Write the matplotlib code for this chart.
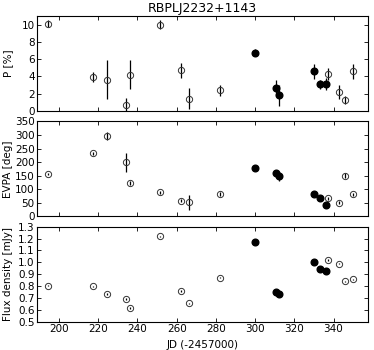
import matplotlib

matplotlib.use("Agg")
import matplotlib.pyplot as plt
import numpy as np

# open symbols
jd_open = [194.4, 217.4, 224.4, 234.2, 236.3, 251.3, 262.2, 266.1, 282.0, 337.0, 342.8, 345.7, 349.7]
p_open = [10.1, 3.92, 3.65, 0.69, 4.2, 10.0, 4.7, 1.42, 2.38, 4.3, 2.2, 1.3, 4.58]
p_open_err = [0.4, 0.55, 2.3, 0.8, 1.7, 0.5, 0.9, 1.2, 0.65, 0.65, 0.8, 0.45, 0.85]
evpa_open = [156, 232, 296, 200, 123, 88, 57, 51, 83, 66, 50, 150, 81]
evpa_open_err = [5, 6, 15, 35, 9, 5, 6, 28, 8, 6, 6, 9, 6]
flux_open = [0.803, 0.797, 0.733, 0.694, 0.615, 1.218, 0.761, 0.654, 0.870, 1.020, 0.990, 0.839, 0.856]
flux_open_err = [0.006, 0.006, 0.012, 0.008, 0.01, 0.006, 0.008, 0.006, 0.006, 0.008, 0.007, 0.006, 0.006]

# filled symbols
jd_fill = [300.2, 310.8, 312.0, 329.9, 333.0, 336.0]
p_fill = [6.73, 2.7, 1.8, 4.58, 3.1, 3.1]
p_fill_err = [0.4, 0.85, 1.2, 0.9, 0.55, 0.7]
evpa_fill = [179, 161, 148, 81, 66, 40]
evpa_fill_err = [4, 6, 17, 5, 5, 5]
flux_fill = [1.174, 0.752, 0.733, 1.000, 0.947, 0.930]
flux_fill_err = [0.005, 0.005, 0.005, 0.005, 0.005, 0.005]

plt.rcParams["font.family"] = "DejaVu Sans"
plt.rcParams["font.size"] = 7.5

fig, axes = plt.subplots(3, 1, figsize=(3.74, 3.5), dpi=100, sharex=True)
fig.subplots_adjust(left=0.1, right=0.984, top=0.954, bottom=0.081, hspace=0.11)

panels = [
    (p_open, p_open_err, p_fill, p_fill_err, "P [%]", (0, 11), np.arange(0, 11, 2)),
    (evpa_open, evpa_open_err, evpa_fill, evpa_fill_err, "EVPA [deg]", (0, 350), np.arange(0, 351, 50)),
    (flux_open, flux_open_err, flux_fill, flux_fill_err, "Flux density [mJy]", (0.5, 1.3), np.arange(0.5, 1.31, 0.1)),
]

for ax, (yo, eo, yf, ef, label, ylim, yticks) in zip(axes, panels):
    ax.errorbar(jd_open, yo, yerr=eo, fmt="o", mfc="none", mec="#333333", mew=0.7,
                ms=4.5, ecolor="black", elinewidth=0.9, capsize=0)
    ax.errorbar(jd_fill, yf, yerr=ef, fmt="o", mfc="black", mec="black",
                ms=4.8, ecolor="black", elinewidth=0.9, capsize=0)
    ax.set_ylim(*ylim)
    ax.set_yticks(yticks)
    ax.set_ylabel(label)
    ax.tick_params(direction="in", top=True, right=True, length=3, width=0.6, pad=2)
    for s in ax.spines.values():
        s.set_linewidth(0.8)

axes[2].set_yticklabels([f"{v:.1f}" for v in np.arange(0.5, 1.31, 0.1)])
axes[2].set_xlim(189, 357.6)
axes[2].set_xticks(np.arange(200, 341, 20))
axes[2].set_xlabel("JD (-2457000)")
axes[0].set_title("RBPLJ2232+1143", fontsize=9, pad=3)

for ax in axes:
    ax.yaxis.set_label_coords(-0.075, 0.5)

fig.savefig("out.png", dpi=100)
